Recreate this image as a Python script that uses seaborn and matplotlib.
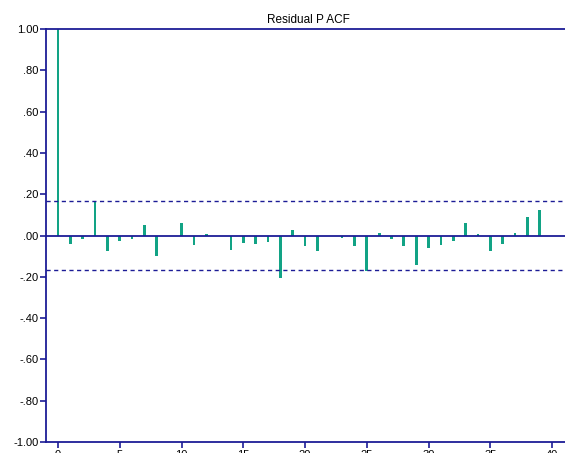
import numpy as np
import pandas as pd
import matplotlib
matplotlib.use("Agg")
import matplotlib.pyplot as plt
import seaborn as sns

# Partial autocorrelations of the residuals, lags 0..39
lags = list(range(40))
pacf = [1.000, -0.039, -0.019, 0.166, -0.073, -0.029, -0.019, 0.050, -0.098, 0.000,
        0.060, -0.045, 0.006, 0.000, -0.068, -0.034, -0.039, -0.031, -0.207, 0.027,
        -0.050, -0.073, 0.000, -0.013, -0.050, -0.171, 0.011, -0.019, -0.050, -0.142,
        -0.061, -0.045, -0.029, 0.061, 0.006, -0.077, -0.039, 0.013, 0.092, 0.124]
conf_band = 0.167
ytick_vals = [1.0, 0.8, 0.6, 0.4, 0.2, 0.0, -0.2, -0.4, -0.6, -0.8, -1.0]
ytick_labels = ["1.00", ".80", ".60", ".40", ".20", ".00", "-.20", "-.40", "-.60", "-.80", "-1.00"]
xtick_vals = [0, 5, 10, 15, 20, 25, 30, 35, 40]

navy = "#1c1c96"
teal = "#12a385"

sns.set_style("white")
plt.rcParams["font.family"] = ["Liberation Sans", "DejaVu Sans"]

fig = plt.figure(figsize=(5.65, 4.53), dpi=100)
W, H = 565, 453
left, right, top, bottom = 46, 570, 29, 442
ax = fig.add_axes([left / W, 1 - bottom / H, (right - left) / W, (bottom - top) / H])

df = pd.DataFrame({"lag": lags, "pacf": pacf})
sns.barplot(data=df, x="lag", y="pacf", native_scale=True, width=0.22,
            color=teal, saturation=1, linewidth=0, ax=ax)

ax.axhline(0, color=navy, lw=1.3, zorder=3)
for v in (conf_band, -conf_band):
    ax.axhline(v, color=navy, lw=1.0, ls=(0, (3, 2.5)), zorder=3)

ax.set_xlim(-0.97, 41.45)
ax.set_ylim(-1.0, 1.0)
ax.set_yticks(ytick_vals)
ax.set_yticklabels(ytick_labels)
ax.set_xticks(xtick_vals)
ax.set_xticklabels([str(v) for v in xtick_vals])
ax.set_xlabel("")
ax.set_ylabel("")

for side in ("left", "top", "bottom"):
    ax.spines[side].set_color(navy)
    ax.spines[side].set_linewidth(1.3)
ax.spines["right"].set_visible(False)

ax.tick_params(axis="both", direction="out", length=4, width=1.2, color=navy,
               labelsize=8, labelcolor="#000000", pad=1.5, left=True, bottom=True)

ax.set_title("Residual P ACF", fontsize=8.5, pad=4, color="#000000")

fig.savefig("out.png", dpi=100)
